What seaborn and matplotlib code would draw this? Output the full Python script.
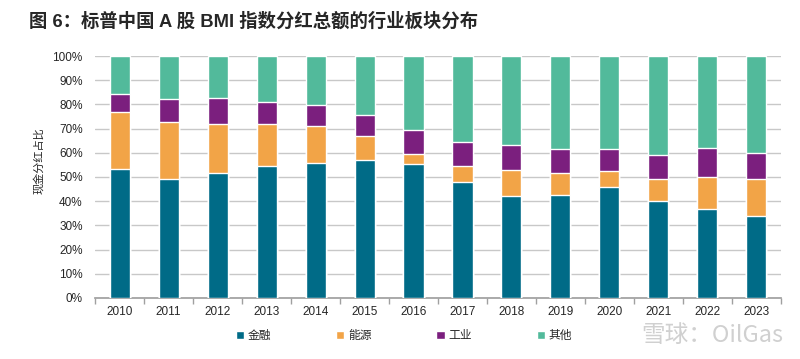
import numpy as np
import pandas as pd
import seaborn as sns
import matplotlib.pyplot as plt
from matplotlib.patches import Patch
from matplotlib.ticker import PercentFormatter

# 数据 (各板块占比, %)
years = [str(y) for y in range(2010, 2024)]
finance = [53.4, 49.0, 51.8, 54.5, 55.6, 57.0, 55.3, 47.9, 42.2, 42.6, 45.8, 40.1, 36.7, 34.0]
energy = [23.3, 23.7, 20.3, 17.6, 15.6, 9.8, 4.4, 6.5, 10.7, 9.0, 6.7, 9.2, 13.2, 15.3]
industry = [7.7, 9.5, 10.4, 8.7, 8.5, 8.8, 9.8, 10.1, 10.4, 10.0, 9.1, 9.9, 12.0, 10.8]
labels = ["金融", "能源", "工业", "其他"]
colors = ["#006B87", "#F2A447", "#7B1F7E", "#52BA9B"]


def set_config():
    sns.set_theme(style="white")
    plt.rcParams["font.family"] = ["Liberation Sans", "Noto Sans CJK SC", "DejaVu Sans"]


def main():
    set_config()
    other = [100 - f - e - i for f, e, i in zip(finance, energy, industry)]
    df = pd.DataFrame({"year": years, "金融": finance, "能源": energy,
                       "工业": industry, "其他": other})
    # 累计值, 从上往下叠加绘制
    cum = df[labels].cumsum(axis=1)

    fig = plt.figure(figsize=(8, 3.59), dpi=100)
    ax = fig.add_axes([0.119, 0.170, 0.857, 0.674])

    for name, color in reversed(list(zip(labels, colors))):
        sns.barplot(x=df["year"], y=cum[name], color=color, width=0.41,
                    saturation=1, ax=ax, zorder=3)

    ax.set_ylim(0, 100)
    ax.set_xlim(-0.5, len(years) - 0.5)
    ax.set_yticks(np.arange(0, 101, 10))
    ax.yaxis.set_major_formatter(PercentFormatter(decimals=0))
    ax.grid(axis="y", color="#C8C8C8", linewidth=1, zorder=0)
    ax.set_axisbelow(True)
    for s in ["left", "right", "top"]:
        ax.spines[s].set_visible(False)
    ax.spines["bottom"].set_color("#A0A0A0")
    ax.set_xticks(np.arange(-0.5, len(years), 1), minor=True)
    ax.tick_params(axis="x", which="minor", length=4, color="#A0A0A0", bottom=True)
    ax.tick_params(axis="x", which="major", length=0, labelsize=8.5, pad=6)
    ax.tick_params(axis="y", length=0, labelsize=8.5, pad=9)
    ax.set_xlabel("")
    ax.set_ylabel("现金分红占比", fontsize=8, family=["Noto Sans CJK SC"])
    ax.yaxis.set_label_coords(-0.075, 0.566)

    fig.text(0.036, 0.925, "图 6：标普中国 A 股 BMI 指数分红总额的行业板块分布",
             fontsize=13.2, fontweight="bold", family=["Liberation Sans", "Noto Sans CJK SC"])

    handles = [Patch(facecolor=c, label=l) for l, c in zip(labels, colors)]
    fig.legend(handles=handles, loc="center", bbox_to_anchor=(0.505, 0.065), ncol=4,
               frameon=False, handlelength=0.7, handleheight=0.7,
               handletextpad=0.3, columnspacing=5.5,
               prop={"family": ["Noto Sans CJK SC"], "size": 8.5})

    fig.text(0.89, 0.065, "雪球：OilGas", fontsize=17, color="#D0D0D0",
             ha="center", va="center", family=["Noto Sans CJK SC", "DejaVu Sans"])

    fig.savefig("out.png", dpi=100)


if __name__ == "__main__":
    main()
